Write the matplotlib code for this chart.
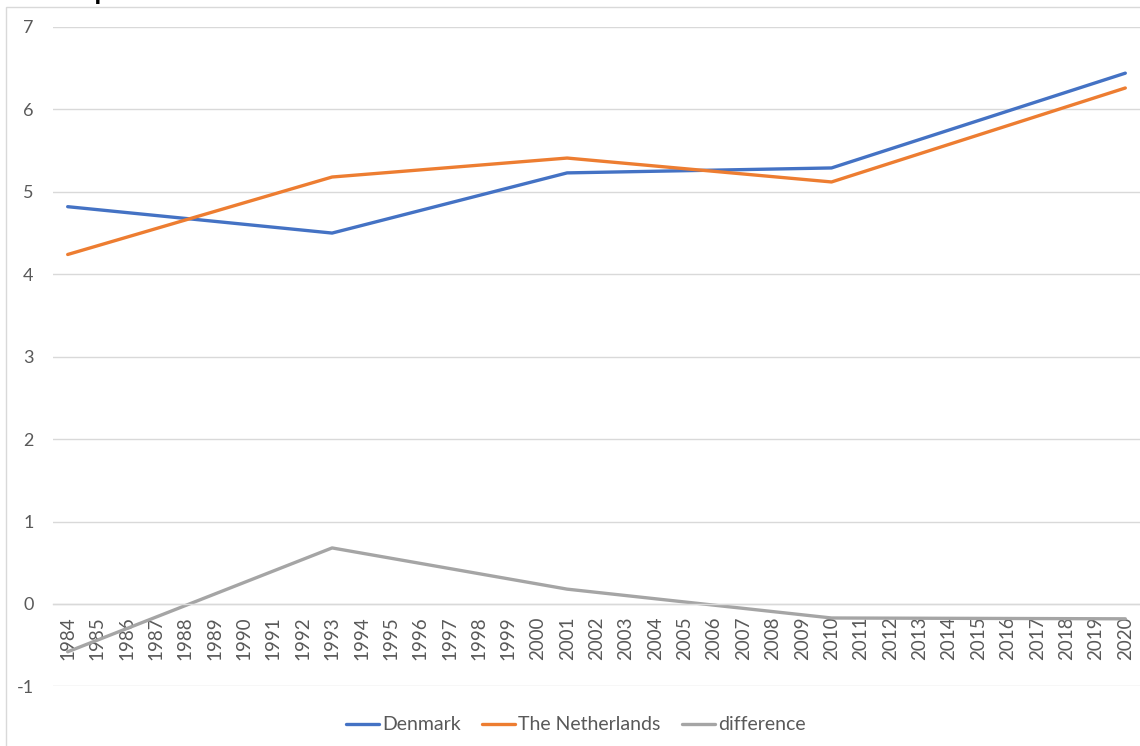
import matplotlib
matplotlib.use("Agg")
import matplotlib.pyplot as plt
from matplotlib.patches import Rectangle

plt.rcParams["font.family"] = ["Lato", "DejaVu Sans"]

# Category axis: one slot per year
years = [str(y) for y in range(1984, 2021)]

# Years with observations, and the values for each series
obs_years = ["1984", "1993", "2001", "2010", "2020"]
denmark = [4.82, 4.50, 5.23, 5.29, 6.44]
netherlands = [4.24, 5.18, 5.41, 5.12, 6.26]
difference = [-0.58, 0.68, 0.18, -0.17, -0.18]

y_ticks = [-1, 0, 1, 2, 3, 4, 5, 6, 7]
title = "Real private sector"

text_col = "#595959"
grid_col = "#D9D9D9"

W, H = 1140, 746
fig = plt.figure(figsize=(W / 100, H / 100), dpi=100)
ax = fig.add_axes([53 / W, 1 - 686.4 / H, 1 - 53 / W, (686.4 - 27) / H])

xpos = [years.index(y) for y in obs_years]
ax.plot(xpos, denmark, color="#4472C4", lw=2.4, label="Denmark", solid_capstyle="round")
ax.plot(xpos, netherlands, color="#ED7D31", lw=2.4, label="The Netherlands", solid_capstyle="round")
ax.plot(xpos, difference, color="#A5A5A5", lw=2.4, label="difference", solid_capstyle="round")

ax.set_xlim(-0.5, len(years) - 0.5)
ax.set_ylim(-1, 7)
ax.set_yticks(y_ticks)
ax.set_yticklabels([str(v) for v in y_ticks])
ax.set_xticks(range(len(years)))
ax.set_xticklabels(years)

ax.grid(axis="y", color=grid_col, lw=1.0)
ax.set_axisbelow(True)
for side in ("top", "right", "left"):
    ax.spines[side].set_visible(False)
ax.spines["bottom"].set_position(("data", 0))
ax.spines["bottom"].set_color(grid_col)
ax.spines["bottom"].set_linewidth(1.0)

ax.tick_params(axis="y", length=0, pad=14, labelsize=13, labelcolor=text_col)
ax.tick_params(axis="x", length=0, pad=9, labelsize=13.5, labelcolor=text_col,
               labelrotation=90)
for lbl in ax.get_xticklabels():
    lbl.set_va("top")
    lbl.set_ha("center")

leg = fig.legend(loc="center", bbox_to_anchor=(0.505, 1 - 725 / H), ncol=3,
                 frameon=False, fontsize=14, handlelength=1.7, handletextpad=0.15,
                 columnspacing=1.1, labelcolor=text_col)

# Outer chart frame
fig.patches.append(Rectangle((5.5 / W, -0.2), 1.2, 1.2 - 6.5 / H, transform=fig.transFigure,
                             fill=False, edgecolor=grid_col, lw=1.0))

# Chart title, mostly above the top edge of the canvas
fig.text(34 / W, 1 + 1.5 / H, title, fontsize=20, fontweight="bold", color="black",
         ha="left", va="baseline")

fig.savefig("out.png", dpi=100)
